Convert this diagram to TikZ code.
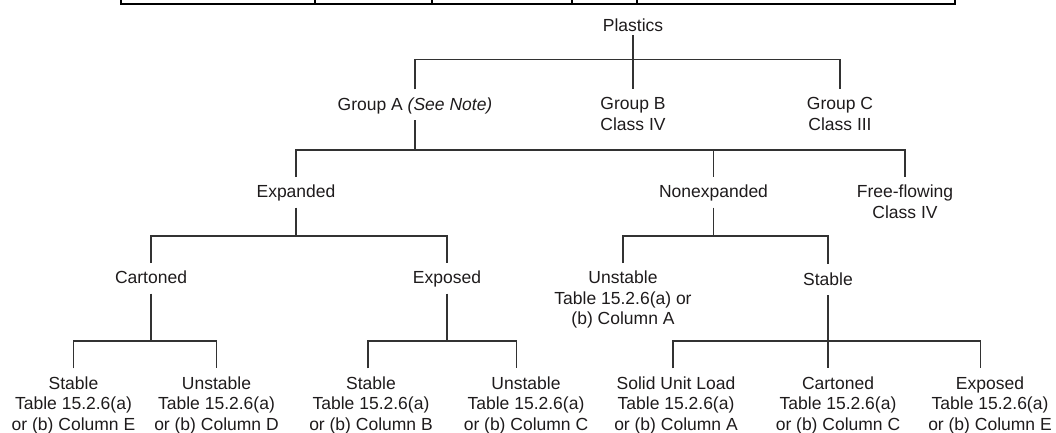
\documentclass[tikz,border=0pt]{standalone}
\usepackage{fontspec}
\setmainfont{Liberation Sans}
\definecolor{ink}{RGB}{30,27,28}
\definecolor{wire}{RGB}{50,50,50}
\begin{document}
\begin{tikzpicture}[x=1pt, y=-1pt,
    txt/.style={anchor=north, inner sep=0pt, outer xsep=0pt, outer ysep=8pt, align=center,
        text=ink, font=\fontsize{17.5}{20.5}\selectfont},
    single/.style={text height=12.6pt, text depth=2pt},
    link/.style={draw=wire, line width=1.3pt}]
    \useasboundingbox (0,0) rectangle (1056,432);

    % Ramka tabeli u góry (ucięta)
    \draw[line width=2.5pt] (121,-2) -- (121,4) -- (955,4) -- (955,-2);
    \foreach \tx in {315,432,572,637}
        \draw[line width=2pt] (\tx,-2) -- (\tx,4);

    % Poziom 1
    \node[txt, single, text depth=0pt, outer ysep=4pt] (plastics) at (633,14.4) {Plastics};
    \node[txt, single] (grpA) at (415,89.4) {Group A \textit{(See Note)}};
    \node[txt] (grpB) at (633,89.4) {Group B\\Class IV};
    \node[txt] (grpC) at (840,89.4) {Group C\\Class III};
    \coordinate (j1) at (633,59.3);
    \draw[link] (plastics.south) -- (grpB.north);
    \draw[link] (grpA.north) |- (j1) -| (grpC.north);

    % Poziom 2
    \node[txt, single] (expd) at (296,177) {Expanded};
    \node[txt, single] (nonexp) at (713.5,177) {Nonexpanded};
    \node[txt] (free) at (905,177) {Free-flowing\\Class IV};
    \coordinate (j2) at (415,150);
    \draw[link] (grpA.south) -- (j2);
    \draw[link] (expd.north) |- (j2) -| (free.north);
    \draw[link] (j2) -| (nonexp.north);

    % Poziom 3
    \node[txt, single] (cartE) at (151,263) {Cartoned};
    \node[txt, single] (expoE) at (447,263) {Exposed};
    \node[txt] (unstN) at (623,263) {Unstable\\Table 15.2.6(a) or\\(b) Column A};
    \node[txt, single] (stabN) at (828,264.4) {Stable};
    \coordinate (j3) at (296,236);
    \coordinate (j4) at (713.5,236);
    \draw[link] (expd.south) -- (j3);
    \draw[link] (cartE.north) |- (j3) -| (expoE.north);
    \draw[link] (nonexp.south) -- (j4);
    \draw[link] (unstN.north) |- (j4) -| (stabN.north);

    % Poziom 4 (tabele)
    \node[txt] (cartS) at (73.5,368.4) {Stable\\Table 15.2.6(a)\\or (b) Column E};
    \node[txt] (cartU) at (216.5,368.4) {Unstable\\Table 15.2.6(a)\\or (b) Column D};
    \node[txt] (expoS) at (371,368.4) {Stable\\Table 15.2.6(a)\\or (b) Column B};
    \node[txt] (expoU) at (526,368.4) {Unstable\\Table 15.2.6(a)\\or (b) Column C};
    \node[txt] (solid) at (676,368.4) {Solid Unit Load\\Table 15.2.6(a)\\or (b) Column A};
    \node[txt] (stabC) at (838,368.4) {Cartoned\\Table 15.2.6(a)\\or (b) Column C};
    \node[txt] (stabE) at (990,368.4) {Exposed\\Table 15.2.6(a)\\or (b) Column E};
    \coordinate (j5) at (151,341);
    \coordinate (j6) at (447,341);
    \coordinate (j7) at (828,341);
    \draw[link] (cartE.south) -- (j5);
    \draw[link] (cartS.north) |- (j5) -| (cartU.north);
    \draw[link] (expoE.south) -- (j6);
    \draw[link] ([xshift=-3pt]expoS.north) |- (j6) -| ([xshift=-9.5pt]expoU.north);
    \draw[link] (stabN.south) -- ([xshift=-10pt]stabC.north);
    \draw[link] ([xshift=-3pt]solid.north) |- (j7) -| ([xshift=-9.5pt]stabE.north);
\end{tikzpicture}
\end{document}
